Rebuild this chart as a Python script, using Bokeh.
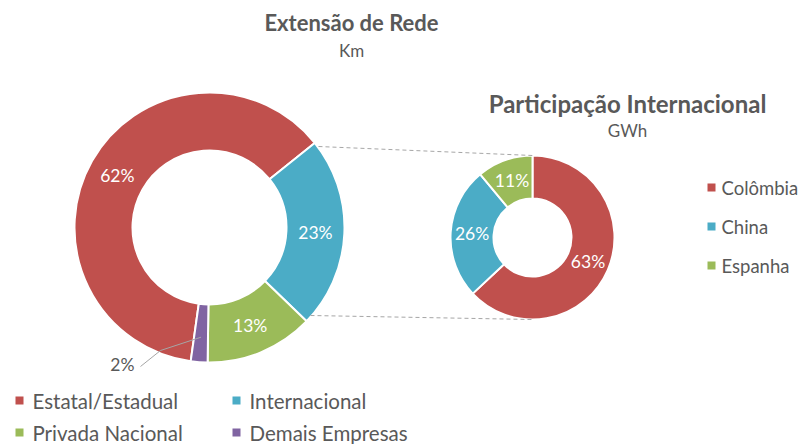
import math
from bokeh.plotting import figure
from bokeh.models import Range1d, ColumnDataSource
from bokeh.core.properties import value
from bokeh.embed import file_html
from bokeh.resources import INLINE

# ---- data ----
rede_categories = ["Estatal/Estadual", "Internacional", "Privada Nacional", "Demais Empresas"]
rede_values = [62, 23, 13, 2]
rede_colors = ["#C0504D", "#4BACC6", "#9BBB59", "#8064A2"]

intl_categories = ["Colômbia", "China", "Espanha"]
intl_values = [63, 26, 11]
intl_colors = ["#C0504D", "#4BACC6", "#9BBB59"]

W, H = 803, 444
FONT = "Lato"
GRAY = "#595959"

p = figure(width=W, height=H, output_backend="svg", toolbar_location=None,
           x_range=Range1d(0, W), y_range=Range1d(0, H), min_border=0)
p.axis.visible = False
p.grid.visible = False
p.outline_line_color = None
p.background_fill_color = "white"
p.border_fill_color = "white"


def Y(y):
    return H - y


def donut(cx, cy, r_out, r_in, vals, colors, start_deg):
    total = float(sum(vals))
    starts, ends, mids = [], [], []
    a = start_deg
    for v in vals:
        span = 360.0 * v / total
        b = a - span
        starts.append(math.radians(b))
        ends.append(math.radians(a))
        mids.append(math.radians((a + b) / 2))
        a = b
    src = ColumnDataSource(dict(x=[cx] * len(vals), y=[Y(cy)] * len(vals),
                                s=starts, e=ends, c=colors))
    p.annular_wedge(x="x", y="y", inner_radius=r_in, outer_radius=r_out,
                    inner_radius_units="screen", outer_radius_units="screen",
                    start_angle="s", end_angle="e", fill_color="c",
                    line_color="white", line_width=2, source=src)
    return mids


# left donut
LCX, LCY, LRO, LRI = 209, 227, 135, 77
lmids = donut(LCX, LCY, LRO, LRI, rede_values, rede_colors, -98.0)
rm = (LRO + LRI) / 2
lx, ly, lt = [], [], []
for v, m in zip(rede_values[:3], lmids[:3]):
    lx.append(LCX + rm * math.cos(m))
    ly.append(Y(LCY) + rm * math.sin(m))
    lt.append(f"{v}%")
p.text(x=lx, y=ly, text=lt, text_color="white", text_font=value(FONT),
       text_font_size="17.5px", text_align="center", text_baseline="middle")

# small slice label with leader
m = lmids[3]
px = LCX + (LRO - 25) * math.cos(m)
py = Y(LCY) + (LRO - 25) * math.sin(m)
p.line(x=[px, 160, 140], y=[py, Y(350), Y(366)], line_color="#A6A6A6", line_width=1)
p.text(x=[134], y=[Y(364)], text=[f"{rede_values[3]}%"], text_color=GRAY,
       text_font=value(FONT), text_font_size="17.5px", text_align="right",
       text_baseline="middle")

# right donut
RCX, RCY, RRO, RRI = 532, 237, 82, 39
rmids = donut(RCX, RCY, RRO, RRI, intl_values, intl_colors, 90.0)
rr = (RRO + RRI) / 2
rx, ry, rt = [], [], []
for v, m in zip(intl_values, rmids):
    rx.append(RCX + rr * math.cos(m))
    ry.append(Y(RCY) + rr * math.sin(m))
    rt.append(f"{v}%")
p.text(x=rx, y=ry, text=rt, text_color="white", text_font=value(FONT),
       text_font_size="17.5px", text_align="center", text_baseline="middle")

# connector lines
p.line(x=[318, RCX], y=[Y(146), Y(RCY - RRO)], line_color="#A6A6A6",
       line_width=1, line_dash="4 3")
p.line(x=[310, RCX], y=[Y(315), Y(RCY + RRO)], line_color="#A6A6A6",
       line_width=1, line_dash="4 3")

# titles
p.text(x=[351], y=[Y(22)], text=["Extensão de Rede"], text_color=GRAY,
       text_font=value(FONT), text_font_size="22px", text_font_style="bold",
       text_align="center", text_baseline="middle")
p.text(x=[351], y=[Y(50)], text=["Km"], text_color=GRAY,
       text_font=value(FONT), text_font_size="17px",
       text_align="center", text_baseline="middle")
p.text(x=[627], y=[Y(103)], text=["Participação Internacional"], text_color=GRAY,
       text_font=value(FONT), text_font_size="24px", text_font_style="bold",
       text_align="center", text_baseline="middle")
p.text(x=[627], y=[Y(130)], text=["GWh"], text_color=GRAY,
       text_font=value(FONT), text_font_size="17px",
       text_align="center", text_baseline="middle")

# right legend
leg_y = [187, 226, 265]
p.scatter(x=[711] * 3, y=[Y(v) for v in leg_y], marker="square", size=8,
          fill_color=intl_colors, line_color=None)
p.text(x=[721] * 3, y=[Y(v) for v in leg_y], text=intl_categories, text_color=GRAY,
       text_font=value(FONT), text_font_size="18.5px", text_baseline="middle")

# bottom legend
bx = [19, 236, 19, 236]
by = [400, 400, 432, 432]
p.scatter(x=bx, y=[Y(v) for v in by], marker="square", size=8,
          fill_color=rede_colors, line_color=None)
p.text(x=[v + 13 for v in bx], y=[Y(v) for v in by], text=rede_categories,
       text_color=GRAY, text_font=value(FONT), text_font_size="20.5px",
       text_baseline="middle")

open("out.html", "w").write(file_html(p, INLINE))
